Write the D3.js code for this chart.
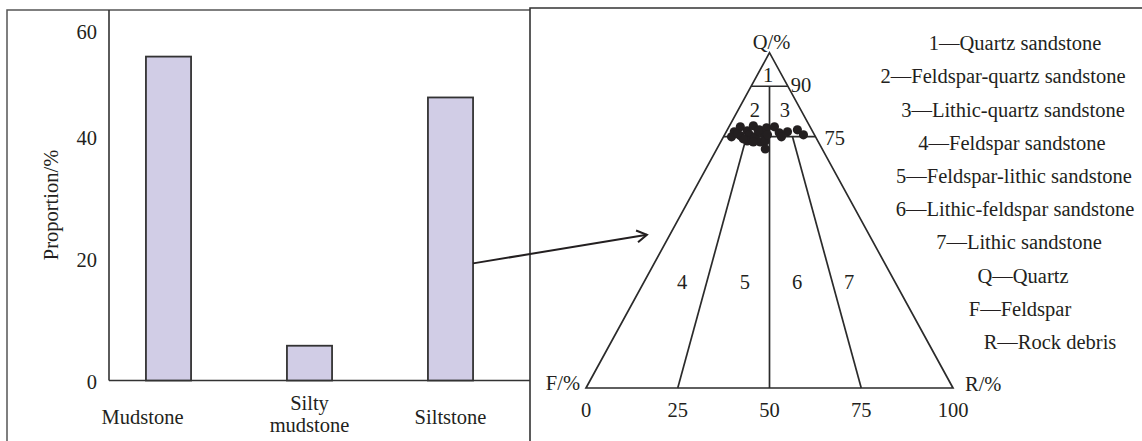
<!DOCTYPE html>
<html>
<head>
<meta charset="utf-8">
<script src="https://cdn.jsdelivr.net/npm/d3@7"></script>
<style>
  body { margin: 0; background: #fff; }
  text { font-family: "Liberation Serif", "Times New Roman", serif; font-size: 20.5px; fill: #231f20; }
</style>
</head>
<body>
<svg id="chart"></svg>
<script>
const width = 1142, height = 441;

// --- bar chart data ---
const rockTypes = ["Mudstone", "Silty mudstone", "Siltstone"];
const rockLabels = [["Mudstone"], ["Silty", "mudstone"], ["Siltstone"]];
const proportions = [53.1, 5.7, 46.4];
const yTicks = [0, 20, 40, 60];

// --- ternary sample points, percent ---
const sampleQ = [76.4, 77.9, 76.7, 78.2, 77.0, 77.6, 77.9, 76.1, 76.4, 77.0, 75.5, 75.2, 75.5,
                 74.9, 75.8, 73.4, 73.7, 71.3, 73.7, 73.4, 74.9, 74.3, 75.5, 74.9, 76.7, 75.8];
const sampleF = [21.4, 19.0, 17.7, 15.3, 14.3, 12.0, 9.7, 9.3, 6.9, 3.9, 3.0, 20.3, 17.7,
                 16.4, 13.8, 15.8, 14.3, 15.5, 19.2, 17.7, 22.9, 20.0, 12.8, 9.3, 14.7, 20.8];
const sampleR = [2.2, 3.1, 5.6, 6.5, 8.7, 10.4, 12.4, 14.6, 16.7, 19.1, 21.5, 4.5, 6.8,
                 8.7, 10.4, 10.8, 12.0, 13.2, 7.1, 8.9, 2.2, 5.7, 11.7, 15.8, 8.6, 3.4];

const baseTicks = [0, 25, 50, 75, 100];
const fieldNames = ["1", "2", "3", "4", "5", "6", "7"];
const legendItems = [
  "1—Quartz sandstone",
  "2—Feldspar-quartz sandstone",
  "3—Lithic-quartz sandstone",
  "4—Feldspar sandstone",
  "5—Feldspar-lithic sandstone",
  "6—Lithic-feldspar sandstone",
  "7—Lithic sandstone",
  "Q—Quartz",
  "F—Feldspar",
  "R—Rock debris"
];

// layout helpers (not data)
const fieldPos = [[93.4, 2.9], [83, 4.5], [83, 12.7], [31.6, 10.4], [31.6, 27.5], [31.6, 41.7], [31.6, 55.9]];
const legendShift = [0, -12, -2, -3, -1, 0, 4, 8, 5, 35];
const ink = "#231f20";

const svg = d3.select("#chart").attr("width", width).attr("height", height);

// ---------------- frame ----------------
svg.append("path")
  .attr("d", "M7,441V10H530")
  .attr("fill", "none").attr("stroke", "#555").attr("stroke-width", 1.5);
svg.append("path")
  .attr("d", "M530,441V8H1142")
  .attr("fill", "none").attr("stroke", "#333").attr("stroke-width", 1.6);

// ---------------- bar chart ----------------
const x = d3.scaleBand()
  .domain(rockTypes)
  .range([98, 521])
  .paddingInner(0.68)
  .paddingOuter(0.34);

const y = d3.scaleLinear().domain([0, 60]).range([380.5, 14.5]);

const yAxis = svg.append("g")
  .attr("transform", "translate(109,0)")
  .call(d3.axisLeft(y).tickValues(yTicks).tickSize(0).tickPadding(12));
yAxis.select(".domain").remove();
yAxis.selectAll("text")
  .style("font-family", "Liberation Serif")
  .style("font-size", "20.5px")
  .attr("fill", ink)
  .attr("dy", d => d === 60 ? "1.15em" : "0.4em");

// axis lines
svg.append("line")
  .attr("x1", 109).attr("x2", 109).attr("y1", 10).attr("y2", y(0))
  .attr("stroke", "#333").attr("stroke-width", 1.6);
svg.append("line")
  .attr("x1", 109).attr("x2", 530).attr("y1", y(0)).attr("y2", y(0))
  .attr("stroke", "#333").attr("stroke-width", 1.6);

svg.append("text")
  .attr("transform", "translate(58,205) rotate(-90)")
  .attr("text-anchor", "middle")
  .text("Proportion/%");

svg.append("g").selectAll("rect")
  .data(rockTypes)
  .join("rect")
  .attr("x", d => x(d))
  .attr("y", (d, i) => y(proportions[i]))
  .attr("width", x.bandwidth())
  .attr("height", (d, i) => y(0) - y(proportions[i]))
  .attr("fill", "#d1cde6")
  .attr("stroke", "#333")
  .attr("stroke-width", 1.8);

const labelNudge = [-26, 0, 0];
rockTypes.forEach((d, i) => {
  const lines = rockLabels[i];
  const cx = x(d) + x.bandwidth() / 2 + labelNudge[i];
  const t = svg.append("text").attr("text-anchor", "middle");
  lines.forEach((ln, j) => {
    const cy = lines.length === 1 ? 417 : 403 + j * 22;
    t.append("tspan").attr("x", cx).attr("y", cy).attr("dy", "0.35em").text(ln);
  });
});

// ---------------- ternary diagram ----------------
const xT = d3.scaleLinear().domain([0, 100]).range([586, 953]);
const yT = d3.scaleLinear().domain([0, 100]).range([388, 52.7]);
// q = quartz %, r = rock debris %
const tern = (q, r) => [xT(r + q / 2), yT(q)];

const line = d3.line();
const triStroke = { stroke: "#2b2b2b", width: 1.7 };

svg.append("path")
  .attr("d", line([tern(100, 0), tern(0, 0), tern(0, 100)]) + "Z")
  .attr("fill", "none")
  .attr("stroke", triStroke.stroke)
  .attr("stroke-width", triStroke.width)
  .attr("stroke-linejoin", "miter");

const innerLines = [
  [[90, 0], [90, 10]],
  [[75, 0], [75, 25]],
  [[90, 5], [0, 50]],
  [[75, 6.25], [0, 25]],
  [[75, 18.75], [0, 75]]
];
svg.append("g").selectAll("path")
  .data(innerLines)
  .join("path")
  .attr("d", d => line(d.map(p => tern(p[0], p[1]))))
  .attr("fill", "none")
  .attr("stroke", triStroke.stroke)
  .attr("stroke-width", triStroke.width);

// sample points
svg.append("g").selectAll("circle")
  .data(sampleQ.map((q, i) => ({ q: q, f: sampleF[i], r: sampleR[i] })))
  .join("circle")
  .attr("cx", d => tern(d.q, d.r)[0])
  .attr("cy", d => tern(d.q, d.r)[1])
  .attr("r", 4.6)
  .attr("fill", ink);

// field numbers
svg.append("g").selectAll("text")
  .data(fieldNames)
  .join("text")
  .attr("x", (d, i) => tern(fieldPos[i][0], fieldPos[i][1])[0])
  .attr("y", (d, i) => tern(fieldPos[i][0], fieldPos[i][1])[1])
  .attr("dy", "0.35em")
  .attr("text-anchor", "middle")
  .text(d => d);

// boundary values
svg.append("text")
  .attr("x", tern(90, 10)[0] + 3).attr("y", tern(90, 10)[1] - 1)
  .attr("dy", "0.35em").text("90");
svg.append("text")
  .attr("x", tern(75, 25)[0] + 9).attr("y", tern(75, 25)[1] + 1)
  .attr("dy", "0.35em").text("75");

// base axis labels
svg.append("g").selectAll("text")
  .data(baseTicks)
  .join("text")
  .attr("x", d => xT(d))
  .attr("y", yT(0) + 22)
  .attr("dy", "0.35em")
  .attr("text-anchor", "middle")
  .text(d => d);

// vertex labels
svg.append("text").attr("x", xT(50) + 2).attr("y", yT(100) - 11)
  .attr("dy", "0.35em").attr("text-anchor", "middle").text("Q/%");
svg.append("text").attr("x", xT(0) - 6).attr("y", yT(0) - 5)
  .attr("dy", "0.35em").attr("text-anchor", "end").text("F/%");
svg.append("text").attr("x", xT(100) + 12).attr("y", yT(0) - 4)
  .attr("dy", "0.35em").text("R/%");

// legend
svg.append("g").selectAll("text")
  .data(legendItems)
  .join("text")
  .attr("x", (d, i) => 1015 + legendShift[i])
  .attr("y", (d, i) => 43 + i * 33.2)
  .attr("dy", "0.35em")
  .attr("text-anchor", "middle")
  .text(d => d);

// ---------------- arrow ----------------
svg.append("defs").append("marker")
  .attr("id", "arrowHead")
  .attr("markerUnits", "userSpaceOnUse")
  .attr("markerWidth", 20).attr("markerHeight", 20)
  .attr("refX", 0).attr("refY", 0)
  .attr("viewBox", "-12 -10 14 20")
  .attr("orient", "auto")
  .append("path")
  .attr("d", "M-10,-6L0,0L-10,6")
  .attr("fill", "none")
  .attr("stroke", ink)
  .attr("stroke-width", 2);

const arrowStart = [x("Siltstone") + x.bandwidth(), y(19.2)];
const arrowEnd = [xT(16.6), yT(45.7)];
svg.append("line")
  .attr("x1", arrowStart[0]).attr("y1", arrowStart[1])
  .attr("x2", arrowEnd[0]).attr("y2", arrowEnd[1])
  .attr("stroke", ink)
  .attr("stroke-width", 2)
  .attr("marker-end", "url(#arrowHead)");
</script>
</body>
</html>
